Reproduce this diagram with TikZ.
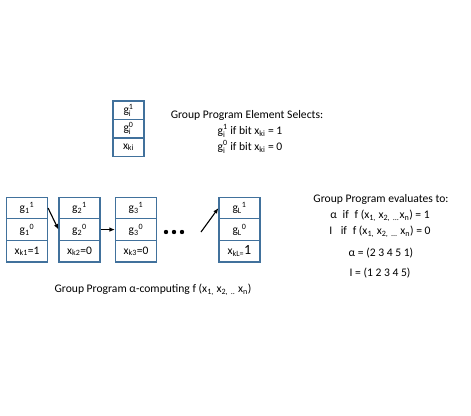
\documentclass[tikz,border=0pt]{standalone}
\usepackage{fontspec}
\setmainfont{Carlito}
\usetikzlibrary{arrows.meta}
\definecolor{boxblue}{RGB}{65,113,156}
\tikzset{
  cell/.style={draw=boxblue, line width=1.1pt, inner sep=0pt, minimum width=#1, font=\fontsize{11.5}{13}\selectfont},
  tcell/.style={cell=31pt, minimum height=18.5pt},
  bcell/.style={cell=41pt, minimum height=21.6pt},
  conn/.style={line width=1.1pt, -{Latex[length=5.5pt,width=4.5pt]}},
  txt/.style={inner sep=0pt, font=\fontsize{11.6}{13}\selectfont},
  dot/.style={circle, fill=black, inner sep=0pt, minimum size=4.4pt}
}
\newcommand{\sbs}[1]{\textsubscript{#1}}
\newcommand{\sps}[1]{\textsuperscript{#1}}
\newcommand{\gst}[2]{$\hbox{g}_{\hbox{\fontsize{8}{9}\selectfont #1}}^{\hbox{\fontsize{8}{9}\selectfont #2}}$}
\begin{document}
\begin{tikzpicture}[x=1pt,y=-1pt]
\useasboundingbox (0,0) rectangle (471,415);
% top element box
\node[tcell] (t1) at (128.5,110.2) {\gst{i}{1}};
\node[tcell] (t2) at (128.5,128.7) {\gst{i}{0}};
\node[tcell] (t3) at (128.5,147.2) {x\sbs{ki}};
\node[txt] (sel) at (247,115) {Group Program Element Selects:};
\node[txt] (s1) at (250,131) {\gst{i}{1} if bit x\sbs{ki} = 1};
\node[txt] (s0) at (250,147) {\gst{i}{0} if bit x\sbs{ki} = 0};
% bottom boxes
\node[bcell] (a1) at (27,208) {g\sbs{1}\sps{1}};
\node[bcell] (a2) at (27,229.6) {g\sbs{1}\sps{0}};
\node[bcell] (a3) at (27,251.2) {x\sbs{k1}=1};
\node[bcell] (b1) at (79.5,208) {g\sbs{2}\sps{1}};
\node[bcell] (b2) at (79.5,229.6) {g\sbs{2}\sps{0}};
\node[bcell] (b3) at (79.5,251.2) {x\sbs{k2}=0};
\node[bcell] (c1) at (136,208) {g\sbs{3}\sps{1}};
\node[bcell] (c2) at (136,229.6) {g\sbs{3}\sps{0}};
\node[bcell] (c3) at (136,251.2) {x\sbs{k3}=0};
\node[bcell] (l1) at (239.5,208) {g\sbs{L}\sps{1}};
\node[bcell] (l2) at (239.5,229.6) {g\sbs{L}\sps{0}};
\node[bcell] (l3) at (239.5,251.2) {x\sbs{kL=}{\fontsize{14}{15}\selectfont 1}};
% dots
\node[dot] (d1) at (166,232) {};
\node[dot] (d2) at (174,232) {};
\node[dot] (d3) at (182,232) {};
% arrows
\coordinate (lstart) at (201,232);
\draw[conn] (a1.east) -- (b2.west);
\draw[conn] (b2.east) -- (c2.west);
\draw[conn] (lstart) -- (l1.west);
% caption
\node[txt] (cap) at (153,290) {Group Program α-computing f (x\sbs{1,} x\sbs{2,} \sbs{..} x\sbs{n})};
% right text
\node[txt] (ev) at (381,199) {Group Program evaluates to:};
\node[txt] (e1) at (380,216) {α\enspace if\enspace f (x\sbs{1,} x\sbs{2,} \sbs{...}x\sbs{n}) = 1};
\node[txt] (e0) at (380,232) {I\enspace\ if\enspace f (x\sbs{1,} x\sbs{2,} \sbs{...} x\sbs{n}) = 0};
\node[txt] (al) at (381,253) {α = (2 3 4 5 1)};
\node[txt] (id) at (380,273) {I = (1 2 3 4 5)};
\end{tikzpicture}
\end{document}
